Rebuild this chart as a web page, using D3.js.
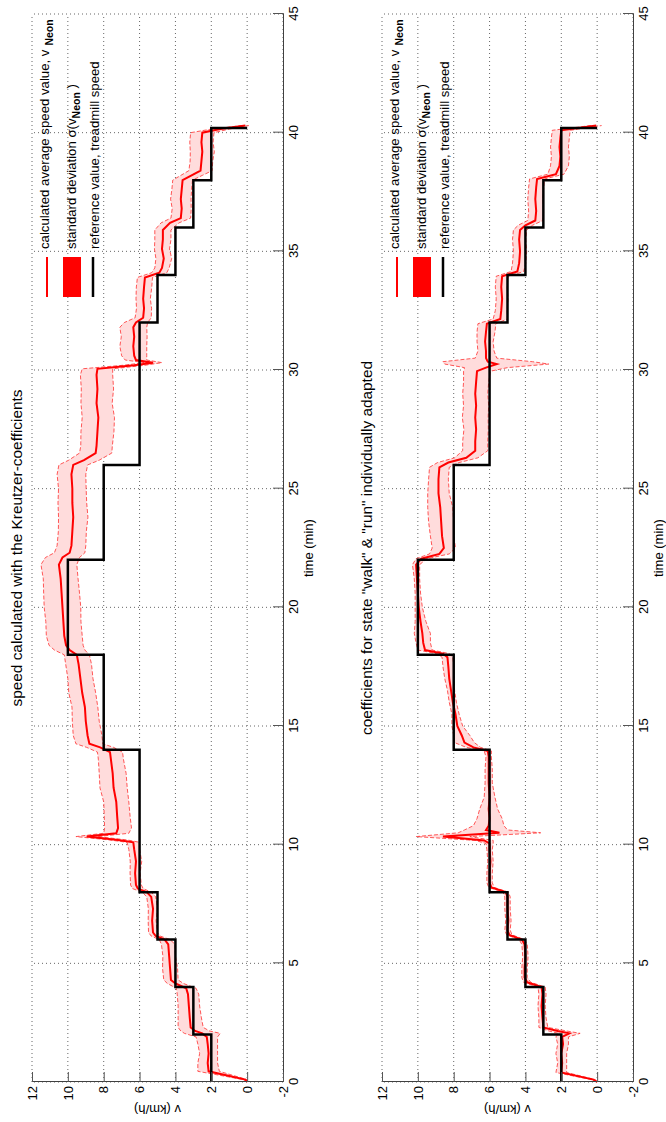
<!DOCTYPE html>
<html>
<head>
<meta charset="utf-8">
<script src="https://cdn.jsdelivr.net/npm/d3@7"></script>
<style>
  body { margin: 0; background: #fff; }
  text { font-family: "Liberation Sans", Arial, sans-serif; fill: #000; }
</style>
</head>
<body>
<div id="chart"></div>
<script>
// figure is drawn in landscape, then turned 90 degrees counter-clockwise
const W = 1122, H = 666;

// ticks
const timeTicks = [0, 5, 10, 15, 20, 25, 30, 35, 40, 45];
const speedTicks = [-2, 0, 2, 4, 6, 8, 10, 12];

// treadmill reference speed (step after each time)
const refT = [0, 2, 4, 6, 8, 14, 18, 22, 26, 32, 34, 36, 38, 40.2];
const refV = [2, 3, 4, 5, 6, 8, 10, 8, 6, 5, 4, 3, 2, 0];

// panel 1: Kreutzer coefficients
const t1 = [0, 0.1, 0.45, 0.8, 1.2, 1.6, 1.9, 2.05, 2.15, 2.3, 2.7, 3.2, 3.7, 3.95, 4.15, 4.3, 4.8, 5.3, 5.8, 6.0,
  6.15, 6.3, 6.8, 7.3, 7.8, 8.0, 8.15, 8.3, 8.8, 9.3, 9.8, 10.1, 10.2, 10.34, 10.48, 10.7, 11.2, 11.8, 12.4, 13.0,
  13.6, 13.9, 14.1, 14.25, 14.6, 15.2, 15.8, 16.4, 17.0, 17.6, 18.0, 18.2, 18.4, 18.8, 19.4, 20.0, 20.6, 21.2, 21.8, 22.1,
  22.3, 22.6, 23.2, 23.8, 24.4, 25.0, 25.6, 26.0, 26.2, 26.5, 26.8, 27.4, 28.0, 28.6, 29.2, 29.8, 30.05, 30.2, 30.31, 30.42,
  30.6, 31.0, 31.4, 31.8, 32.0, 32.2, 32.6, 33.0, 33.5, 33.9, 34.1, 34.3, 34.7, 35.1, 35.5, 35.9, 36.2, 36.4, 36.8, 37.2,
  37.6, 38.0, 38.2, 38.4, 38.8, 39.2, 39.6, 40.0, 40.15, 40.3];
const mean1 = [0, 0.1, 2.15, 2.2, 2.15, 2.2, 2.25, 2.5, 2.9, 3.15, 3.2, 3.25, 3.3, 3.4, 4.0, 4.25, 4.3, 4.35, 4.4, 4.6,
  5.1, 5.25, 5.3, 5.25, 5.35, 5.6, 6.1, 6.2, 6.25, 6.2, 6.3, 6.35, 7.2, 8.95, 7.3, 7.2, 7.25, 7.3, 7.45, 7.5,
  7.6, 7.65, 8.2, 8.8, 8.9, 9.0, 9.05, 9.2, 9.3, 9.4, 9.5, 9.9, 10.1, 10.2, 10.25, 10.3, 10.35, 10.4, 10.5, 10.3,
  9.9, 9.8, 9.75, 9.7, 9.75, 9.75, 9.8, 9.7, 9.1, 8.45, 8.4, 8.35, 8.3, 8.4, 8.35, 8.4, 8.35, 6.3, 5.25, 6.2,
  6.3, 6.35, 6.3, 6.35, 6.2, 5.8, 5.75, 5.8, 5.75, 5.7, 4.9, 4.75, 4.65, 4.75, 4.7, 4.7, 4.3, 3.7, 3.65, 3.7,
  3.65, 3.6, 3.1, 2.6, 2.55, 2.5, 2.55, 2.5, 1.5, 0.1];
const sd1 = [0, 0.1, 0.6, 0.55, 0.5, 0.55, 0.6, 1.0, 0.8, 0.7, 0.65, 0.6, 0.6, 0.55, 0.45, 0.4, 0.42, 0.35, 0.38, 0.3,
  0.25, 0.25, 0.22, 0.26, 0.25, 0.25, 0.3, 0.3, 0.28, 0.32, 0.3, 0.35, 0.5, 0.6, 0.7, 0.75, 0.72, 0.7, 0.76, 0.75,
  0.7, 0.7, 0.75, 0.75, 0.8, 0.75, 0.72, 0.75, 0.7, 0.72, 0.7, 0.85, 0.95, 1.0, 0.98, 1.02, 1.0, 0.97, 1.0, 0.95,
  0.85, 0.8, 0.78, 0.82, 0.8, 0.77, 0.8, 0.8, 0.85, 0.9, 0.88, 0.92, 0.9, 0.87, 0.9, 0.9, 0.85, 0.6, 0.5, 0.6,
  0.7, 0.75, 0.72, 0.75, 0.65, 0.45, 0.42, 0.4, 0.43, 0.42, 0.42, 0.4, 0.44, 0.42, 0.45, 0.45, 0.5, 0.55, 0.53, 0.57,
  0.55, 0.55, 0.6, 0.65, 0.63, 0.67, 0.65, 0.65, 0.5, 0.2];

// panel 2: walk / run coefficients individually adapted
const t2 = [0, 0.1, 0.4, 0.8, 1.2, 1.6, 1.9, 2.05, 2.15, 2.3, 2.7, 3.2, 3.7, 4.0, 4.2, 4.4, 4.8, 5.3, 5.8, 6.0,
  6.2, 6.4, 6.8, 7.3, 7.8, 8.0, 8.2, 8.4, 8.8, 9.3, 9.8, 10.05, 10.18, 10.34, 10.5, 10.62, 10.8, 11.1, 11.5, 12.0,
  12.6, 13.2, 13.7, 13.95, 14.1, 14.3, 14.6, 15.0, 15.5, 16.0, 16.5, 17.0, 17.5, 17.9, 18.05, 18.2, 18.5, 18.9, 19.4, 20.0,
  20.6, 21.2, 21.8, 22.05, 22.25, 22.5, 23.0, 23.6, 24.2, 24.8, 25.4, 25.9, 26.1, 26.3, 26.6, 27.0, 27.5, 28.0, 28.5, 29.0,
  29.5, 29.95, 30.1, 30.25, 30.35, 30.5, 30.8, 31.2, 31.6, 31.95, 32.15, 32.5, 33.0, 33.5, 33.95, 34.15, 34.5, 35.0, 35.5, 35.9,
  36.1, 36.3, 36.7, 37.2, 37.7, 38.05, 38.25, 38.6, 39.0, 39.4, 39.8, 40.1, 40.3];
const mean2 = [0, 0.2, 2.0, 1.95, 2.0, 1.9, 1.95, 1.55, 2.2, 3.0, 3.05, 3.1, 3.05, 3.1, 3.9, 4.05, 4.05, 4.0, 4.05, 4.2,
  4.9, 5.0, 4.95, 5.0, 5.0, 5.1, 5.9, 6.0, 6.0, 5.95, 6.0, 6.0, 6.3, 8.6, 5.45, 6.2, 6.05, 6.0, 6.05, 6.0,
  6.05, 6.05, 6.05, 6.1, 6.9, 7.4, 7.55, 7.8, 7.9, 8.05, 8.15, 8.25, 8.3, 8.35, 8.6, 9.6, 9.7, 9.75, 9.85, 9.95,
  10.0, 10.05, 10.1, 9.8, 8.8, 8.55, 8.65, 8.7, 8.75, 8.85, 8.85, 8.8, 8.3, 7.3, 6.8, 6.8, 6.75, 6.8, 6.75, 6.8,
  6.75, 6.7, 6.2, 5.6, 6.1, 6.2, 6.2, 6.25, 6.2, 6.15, 5.4, 5.35, 5.3, 5.35, 5.3, 4.45, 4.35, 4.3, 4.35, 4.3,
  4.0, 3.45, 3.4, 3.45, 3.4, 3.35, 2.3, 2.1, 2.05, 2.1, 2.05, 2.0, 0.05];
const sd2 = [0, 0.1, 0.3, 0.25, 0.3, 0.3, 0.35, 0.6, 0.5, 0.25, 0.2, 0.2, 0.2, 0.2, 0.2, 0.15, 0.15, 0.15, 0.15, 0.15,
  0.15, 0.15, 0.15, 0.15, 0.15, 0.15, 0.15, 0.15, 0.15, 0.15, 0.15, 0.2, 0.5, 1.5, 2.3, 1.2, 0.85, 0.7, 0.5, 0.3,
  0.2, 0.2, 0.15, 0.2, 0.4, 0.55, 0.45, 0.3, 0.2, 0.2, 0.2, 0.25, 0.3, 0.3, 0.35, 0.4, 0.4, 0.45, 0.3, 0.2,
  0.15, 0.15, 0.2, 0.3, 0.55, 0.65, 0.65, 0.7, 0.7, 0.6, 0.55, 0.55, 0.6, 0.65, 0.7, 0.7, 0.68, 0.72, 0.7, 0.7,
  0.7, 0.75, 1.2, 2.9, 2.5, 0.6, 0.45, 0.45, 0.5, 0.5, 0.4, 0.33, 0.33, 0.33, 0.33, 0.35, 0.37, 0.37, 0.37, 0.37,
  0.4, 0.42, 0.42, 0.42, 0.42, 0.42, 0.45, 0.5, 0.5, 0.5, 0.5, 0.5, 0.3];

const panels = [
  { top: 32, title: "speed calculated with the Kreutzer-coefficients", t: t1, mean: mean1, sd: sd1 },
  { top: 382, title: "coefficients for state \"walk\" & \"run\" individually adapted", t: t2, mean: mean2, sd: sd2 }
];

const svg = d3.select("#chart").append("svg")
  .attr("width", H)
  .attr("height", W);

const fig = svg.append("g")
  .attr("transform", `translate(0,${W}) rotate(-90)`);

const x = d3.scaleLinear().domain([0, 45]).range([40, 1108]);

panels.forEach(p => {
  const y = d3.scaleLinear().domain([-2, 12]).range([p.top + 251, p.top]);
  const g = fig.append("g");
  const data = p.t.map((t, i) => ({ t: t, m: p.mean[i], s: p.sd[i] }));
  const ref = refT.map((t, i) => ({ t: t, v: refV[i] }));

  // dotted grid
  g.selectAll(".gx").data(timeTicks).enter().append("line")
    .attr("x1", d => x(d)).attr("x2", d => x(d))
    .attr("y1", y(-2)).attr("y2", y(12))
    .attr("stroke", "#666").attr("stroke-width", 1).attr("stroke-dasharray", "1,3");
  g.selectAll(".gy").data(speedTicks).enter().append("line")
    .attr("x1", x(0)).attr("x2", x(45))
    .attr("y1", d => y(d)).attr("y2", d => y(d))
    .attr("stroke", "#666").attr("stroke-width", 1).attr("stroke-dasharray", "1,3");

  // std band
  g.append("path").datum(data)
    .attr("fill", "#ffdcdc")
    .attr("d", d3.area().x(d => x(d.t)).y0(d => y(d.m - d.s)).y1(d => y(d.m + d.s)));
  [-1, 1].forEach(k => {
    g.append("path").datum(data)
      .attr("fill", "none").attr("stroke", "#ff3030").attr("stroke-width", 0.8)
      .attr("stroke-dasharray", "4,2")
      .attr("d", d3.line().x(d => x(d.t)).y(d => y(d.m + k * d.s)));
  });

  // mean speed
  g.append("path").datum(data)
    .attr("fill", "none").attr("stroke", "#ff0000").attr("stroke-width", 2)
    .attr("d", d3.line().x(d => x(d.t)).y(d => y(d.m)));

  // treadmill reference
  g.append("path").datum(ref)
    .attr("fill", "none").attr("stroke", "#000").attr("stroke-width", 2.5)
    .attr("d", d3.line().curve(d3.curveStepAfter).x(d => x(d.t)).y(d => y(d.v)));

  // axes
  const axX = g.append("g").attr("transform", `translate(0,${y(-2)})`)
    .call(d3.axisBottom(x).tickValues(timeTicks).tickSize(-10).tickPadding(6).tickFormat(d => String(d)));
  const axY = g.append("g").attr("transform", `translate(${x(0)},0)`)
    .call(d3.axisLeft(y).tickValues(speedTicks).tickSize(-10).tickPadding(4).tickFormat(d => String(d)));
  [axX, axY].forEach(a => {
    a.select(".domain").attr("stroke", "#404040");
    a.selectAll(".tick line").attr("stroke", "#555");
    a.selectAll("text").attr("font-size", 13).attr("font-family", "Liberation Sans, Arial, sans-serif");
  });

  // labels
  g.append("text").attr("x", (x(0) + x(45)) / 2).attr("y", p.top - 10)
    .attr("text-anchor", "middle").attr("font-size", 15.4).text(p.title);
  g.append("text").attr("x", (x(0) + x(45)) / 2).attr("y", y(-2) + 30)
    .attr("text-anchor", "middle").attr("font-size", 13).text("time (min)");
  g.append("text").attr("transform", `translate(17,${(y(-2) + y(12)) / 2}) rotate(-90)`)
    .attr("text-anchor", "middle").attr("font-size", 13).text("v (km/h)");

  // legend
  const lx0 = 825, lx1 = 865, tx = 873;
  g.append("line").attr("x1", lx0).attr("x2", lx1).attr("y1", p.top + 15).attr("y2", p.top + 15)
    .attr("stroke", "#ff0000").attr("stroke-width", 2);
  g.append("rect").attr("x", lx0).attr("y", p.top + 31).attr("width", lx1 - lx0).attr("height", 18)
    .attr("fill", "#ff0000");
  g.append("line").attr("x1", lx0).attr("x2", lx1).attr("y1", p.top + 61).attr("y2", p.top + 61)
    .attr("stroke", "#000").attr("stroke-width", 2.5);

  const l1 = g.append("text").attr("x", tx).attr("y", p.top + 17).attr("font-size", 13.2);
  l1.append("tspan").text("calculated average speed value, v");
  l1.append("tspan").attr("dx", 4).attr("dy", 4).attr("font-size", 10.5).attr("font-weight", "bold").text("Neon");

  const l2 = g.append("text").attr("x", tx).attr("y", p.top + 44).attr("font-size", 13.2);
  l2.append("tspan").text("standard deviation  \u03c3(v");
  l2.append("tspan").attr("dy", 4).attr("font-size", 10.5).attr("font-weight", "bold").text("Neon");
  l2.append("tspan").attr("dy", -4).text(" )");

  g.append("text").attr("x", tx).attr("y", p.top + 67).attr("font-size", 13.2)
    .text("reference value, treadmill speed");
});
</script>
</body>
</html>
